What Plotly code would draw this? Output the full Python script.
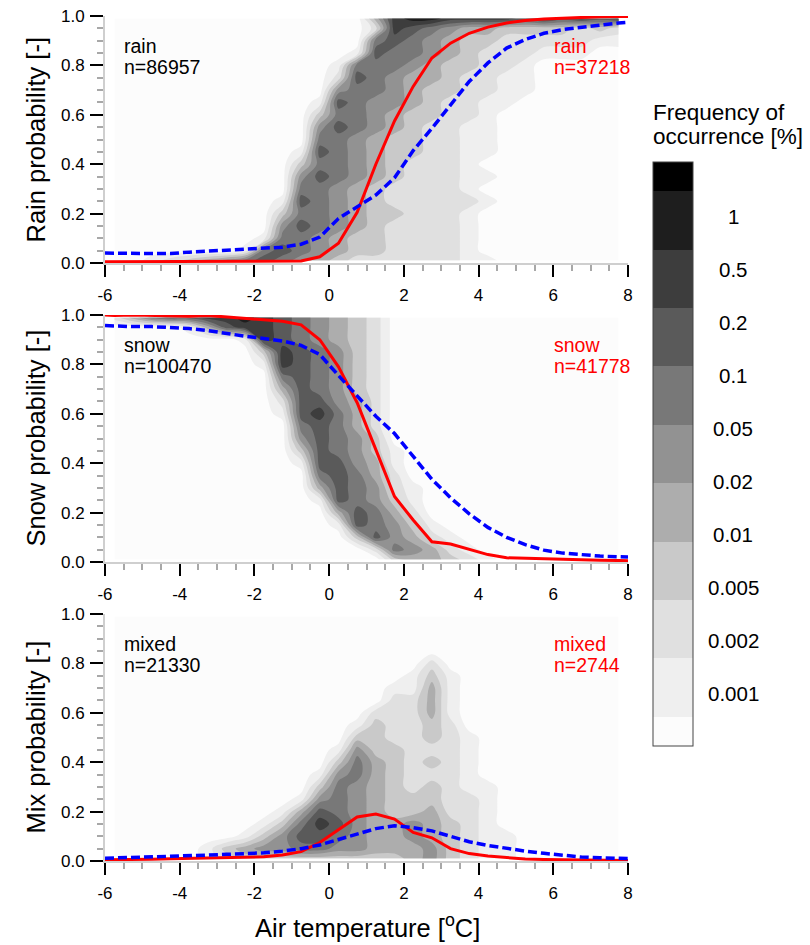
import plotly.graph_objects as go

# ---------------- data ----------------
grid_temps = [-5.75, -5.25, -4.75, -4.25, -3.75, -3.25, -2.75, -2.25, -1.75, -1.25,
              -0.75, -0.25, 0.25, 0.75, 1.25, 1.75, 2.25, 2.75, 3.25, 3.75,
              4.25, 4.75, 5.25, 5.75, 6.25, 6.75, 7.25, 7.75]
# rows from top (0.99) to bottom (0.01)
grid_probs = [0.99, 0.95, 0.90, 0.85, 0.80, 0.75, 0.70, 0.65, 0.60, 0.55, 0.50,
              0.45, 0.40, 0.35, 0.30, 0.25, 0.20, 0.15, 0.10, 0.05, 0.01]

# frequency class index per cell (0: <0.001 %, 1: 0.001-0.002 %, ... 9: 0.5-1 %, A: >1 %)
rain_grid = [
    "0000000000000048998888787878",
    "0000000000000028765443333232",
    "0000000000000067654332222211",
    "0000000000000176654322211100",
    "0000000000001666543322100000",
    "0000000000002765443221100000",
    "0000000000005665433221100000",
    "0000000000017655432211000000",
    "0000000000036654332210000000",
    "0000000000057654322110000000",
    "0000000000066543322110000000",
    "0000000000176543322110000000",
    "0000000000366543222100000000",
    "0000000000576543222110000000",
    "0000000000665432222100000000",
    "0000000001765432222210000000",
    "0000000003665433222100000000",
    "0000000005765432222100000000",
    "0000000016654332222100000000",
    "0000000167654332222100000000",
    "0012345676543222222110000000",
]
snow_grid = [
    "2467788987654320000000000000",
    "0000147887654320000000000000",
    "0000000187654320000000000000",
    "0000000038765320000000000000",
    "0000000018765320000000000000",
    "0000000006765320000000000000",
    "0000000004765320000000000000",
    "0000000002775420000000000000",
    "0000000001786420000000000000",
    "0000000000676420000000000000",
    "0000000000576530000000000000",
    "0000000000376531000000000000",
    "0000000000177541000000000000",
    "0000000000067642000000000000",
    "0000000000047652100000000000",
    "0000000000017653100000000000",
    "0000000000004764200000000000",
    "0000000000001765310000000000",
    "0000000000000375421000000000",
    "0000000000000026542100000000",
    "0000000000000003443210000000",
]
mixed_grid = [
    "0000000000000000000000000000",
    "0000000000000000000000000000",
    "0000000000000000000000000000",
    "0000000000000000000000000000",
    "0000000000000000020000000000",
    "0000000000000000131000000000",
    "0000000000000001141000000000",
    "0000000000000002241000000000",
    "0000000000000022241000000000",
    "0000000000000132232000000000",
    "0000000000000332232100000000",
    "0000000000001533222100000000",
    "0000000000003643232100000000",
    "0000000000015643222100000000",
    "0000000000036543232110000000",
    "0000000000156543332210000000",
    "0000000001476543342210000000",
    "0000000013687544543210000000",
    "0000000135776544543211000000",
    "0000013455665544453211000000",
    "0000012333333333453211000000",
]

line_temps = [-6, -5.75, -5.25, -4.75, -4.25, -3.75, -3.25, -2.75, -2.25, -1.75,
              -1.25, -0.75, -0.25, 0.25, 0.75, 1.25, 1.75, 2.25, 2.75, 3.25,
              3.75, 4.25, 4.75, 5.25, 5.75, 6.25, 6.75, 7.25, 7.75, 8]
rain_red = [0.005, 0.005, 0.005, 0.005, 0.005, 0.005, 0.005, 0.005, 0.005, 0.005,
            0.005, 0.008, 0.025, 0.08, 0.205, 0.40, 0.575, 0.715, 0.83, 0.89,
            0.93, 0.955, 0.972, 0.982, 0.988, 0.992, 0.995, 0.997, 0.998, 0.998]
rain_blue = [0.040, 0.040, 0.040, 0.037, 0.038, 0.044, 0.048, 0.054, 0.058, 0.060,
             0.064, 0.076, 0.105, 0.18, 0.228, 0.275, 0.345, 0.455, 0.545, 0.64,
             0.735, 0.81, 0.87, 0.905, 0.93, 0.945, 0.955, 0.965, 0.972, 0.975]
snow_red = [1.0, 0.998, 1.0, 0.998, 0.997, 0.995, 0.998, 0.993, 0.988, 0.983,
            0.975, 0.96, 0.90, 0.79, 0.645, 0.455, 0.265, 0.17, 0.082, 0.073,
            0.05, 0.03, 0.017, 0.015, 0.011, 0.01, 0.008, 0.007, 0.006, 0.005]
snow_blue = [0.957, 0.955, 0.953, 0.953, 0.95, 0.945, 0.937, 0.925, 0.914, 0.905,
             0.895, 0.877, 0.84, 0.755, 0.67, 0.59, 0.52, 0.43, 0.335, 0.26,
             0.195, 0.14, 0.10, 0.07, 0.048, 0.036, 0.029, 0.024, 0.021, 0.02]
mixed_red = [0.005, 0.005, 0.006, 0.007, 0.009, 0.01, 0.011, 0.013, 0.015, 0.017,
             0.024, 0.038, 0.075, 0.125, 0.178, 0.19, 0.17, 0.116, 0.094, 0.05,
             0.03, 0.02, 0.013, 0.008, 0.006, 0.005, 0.004, 0.003, 0.003, 0.002]
mixed_blue = [0.011, 0.012, 0.013, 0.015, 0.017, 0.02, 0.024, 0.027, 0.03, 0.033,
              0.04, 0.05, 0.065, 0.087, 0.11, 0.131, 0.143, 0.135, 0.122, 0.10,
              0.078, 0.063, 0.05, 0.04, 0.031, 0.023, 0.016, 0.013, 0.011, 0.01]

freq_labels = ["0.001", "0.002", "0.005", "0.01", "0.02", "0.05", "0.1", "0.2", "0.5", "1"]
x_tick_vals = [-6, -4, -2, 0, 2, 4, 6, 8]
x_tick_text = ["-6", "-4", "-2", "0", "2", "4", "6", "8"]
y_tick_vals = [0.0, 0.2, 0.4, 0.6, 0.8, 1.0]
y_tick_text = ["0.0", "0.2", "0.4", "0.6", "0.8", "1.0"]

panel_names = ["rain", "snow", "mixed"]
y_titles = ["Rain probability [-]", "Snow probability [-]", "Mix probability [-]"]
n_black = ["n=86957", "n=100470", "n=21330"]
n_red = ["n=37218", "n=41778", "n=2744"]
grids = [rain_grid, snow_grid, mixed_grid]
reds = [rain_red, snow_red, mixed_red]
blues = [rain_blue, snow_blue, mixed_blue]

# ---------------- styling ----------------
W, H = 810, 945
FONT = "Liberation Sans, Arial, sans-serif"
bin_colors = ["#fcfcfc", "#efefef", "#e0e0e0", "#c9c9c9", "#adadad", "#929292",
              "#787878", "#5a5a5a", "#3d3d3d", "#1e1e1e", "#000000"]
colorscale = [[k / 10, c] for k, c in enumerate(bin_colors)]

panels_px = [(16, 263), (315, 562), (614, 861)]   # (top, bottom) pixel rows
X0, X1 = 105, 628


def fx(px):
    return px / W


def fy(py):
    return 1 - py / H


fig = go.Figure()
annotations = []
probs_asc = grid_probs[::-1]
CB_TOP, CB_BOT = 162, 746

for i in range(3):
    sfx = "" if i == 0 else str(i + 1)
    xa, ya = "x" + sfx, "y" + sfx
    z = [[int(ch, 16) + 0.5 for ch in row] for row in grids[i][::-1]]
    cont = dict(
        x=grid_temps, y=probs_asc, z=z, xaxis=xa, yaxis=ya,
        colorscale=colorscale, autocontour=False,
        contours=dict(start=1, end=10, size=1, coloring="fill", showlines=False),
        line=dict(width=0, smoothing=1.0), hoverinfo="skip",
        showscale=(i == 0),
    )
    if i == 0:
        cont["colorbar"] = dict(
            thickness=40, thicknessmode="pixels",
            len=(CB_BOT - CB_TOP) / H, lenmode="fraction",
            x=fx(653), xanchor="left", y=fy(CB_TOP), yanchor="top",
            xpad=0, ypad=0, outlinewidth=1, outlinecolor="#444",
            showticklabels=False, ticks="",
        )
    fig.add_trace(go.Contour(**cont))
    fig.add_trace(go.Scatter(x=line_temps, y=reds[i], xaxis=xa, yaxis=ya, mode="lines",
                             line=dict(color="#ff0000", width=3), hoverinfo="skip",
                             showlegend=False))
    fig.add_trace(go.Scatter(x=line_temps, y=blues[i], xaxis=xa, yaxis=ya, mode="lines",
                             line=dict(color="#0000ff", width=3.5, dash="9px,4px"),
                             hoverinfo="skip", showlegend=False))

    top, bot = panels_px[i]
    fig.update_layout(**{
        "xaxis" + sfx: dict(
            domain=[fx(X0), fx(X1)], range=[-6, 8], anchor=ya, automargin=False,
            tickmode="array", tickvals=x_tick_vals, ticktext=x_tick_text,
            ticks="outside", ticklen=12, tickwidth=2, tickcolor="black",
            showline=True, linecolor="#cfcfcf", linewidth=2,
            showgrid=False, zeroline=False, ticklabelstandoff=4,
            tickfont=dict(family=FONT, size=17, color="black"),
            minor=dict(tickmode="linear", tick0=-6, dtick=0.5, ticks="outside",
                       ticklen=6, tickwidth=1.5, tickcolor="#a8a8a8", showgrid=False),
        ),
        "yaxis" + sfx: dict(
            domain=[fy(bot), fy(top)], range=[0, 1], anchor=xa, automargin=False,
            tickmode="array", tickvals=y_tick_vals, ticktext=y_tick_text,
            ticks="outside", ticklen=13, tickwidth=2, tickcolor="black",
            showline=True, linecolor="#cfcfcf", linewidth=2,
            showgrid=False, zeroline=False, ticklabelstandoff=2,
            tickfont=dict(family=FONT, size=17, color="black"),
            minor=dict(tickmode="linear", tick0=0, dtick=0.05, ticks="outside",
                       ticklen=6, tickwidth=1.5, tickcolor="#a8a8a8", showgrid=False),
        ),
    })

    off = top - 16
    txt_font = dict(family=FONT, size=19.5)
    annotations += [
        dict(text=panel_names[i], x=fx(122), y=fy(46 + off), xanchor="left", yanchor="middle",
             font=dict(color="black", **txt_font)),
        dict(text=n_black[i], x=fx(122), y=fy(66.5 + off), xanchor="left", yanchor="middle",
             font=dict(color="black", **txt_font)),
        dict(text=panel_names[i], x=fx(552), y=fy(46 + off), xanchor="left", yanchor="middle",
             font=dict(color="#ff0000", **txt_font)),
        dict(text=n_red[i], x=fx(552), y=fy(66.5 + off), xanchor="left", yanchor="middle",
             font=dict(color="#ff0000", **txt_font)),
        dict(text=y_titles[i], x=fx(35), y=fy((top + bot) / 2), textangle=-90,
             xanchor="center", yanchor="middle",
             font=dict(family=FONT, size=25.5, color="black")),
    ]

annotations.append(dict(text="Air temperature [<sup>o</sup>C]", x=fx(367), y=fy(926),
                        xanchor="center", yanchor="middle",
                        font=dict(family=FONT, size=25.5, color="black")))
annotations.append(dict(text="Frequency of", x=fx(651), y=fy(113), xanchor="left",
                        yanchor="middle", font=dict(family=FONT, size=22.5, color="black")))
annotations.append(dict(text="occurrence [%]", x=fx(651), y=fy(136.5), xanchor="left",
                        yanchor="middle", font=dict(family=FONT, size=22.5, color="black")))
step = (CB_BOT - CB_TOP) / 11
for k, lab in enumerate(freq_labels, start=1):
    annotations.append(dict(text=lab, x=fx(733), y=fy(CB_BOT - k * step + 1),
                            xanchor="center", yanchor="middle",
                            font=dict(family=FONT, size=20.5, color="black")))

for a in annotations:
    a.update(xref="paper", yref="paper", showarrow=False)

fig.update_layout(
    width=W, height=H, margin=dict(l=0, r=0, t=0, b=0, autoexpand=False),
    paper_bgcolor="white", plot_bgcolor="white",
    showlegend=False, annotations=annotations,
    font=dict(family=FONT),
)

fig.write_html("out.html")
